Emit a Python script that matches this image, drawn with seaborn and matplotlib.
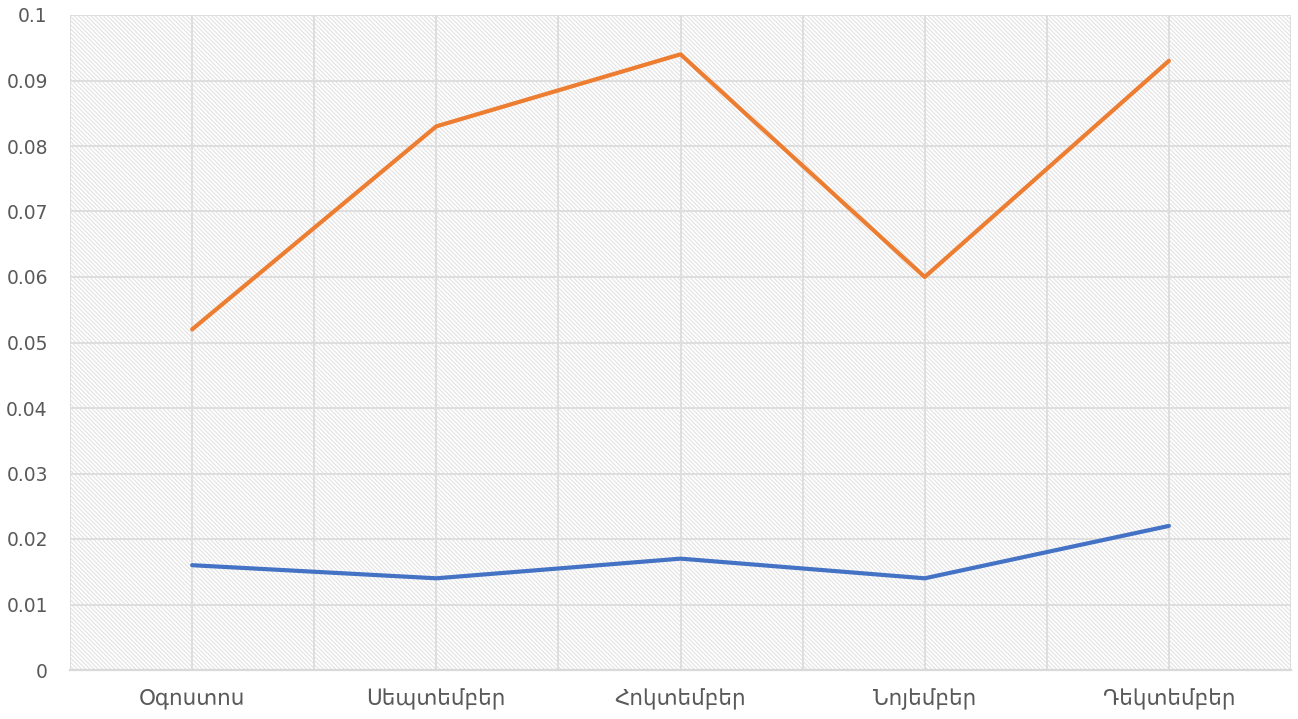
import matplotlib
matplotlib.use("Agg")
import matplotlib.pyplot as plt
import seaborn as sns
import pandas as pd
import numpy as np
from matplotlib.ticker import FixedLocator, FuncFormatter
from matplotlib.patches import Rectangle

months = ["Օգոստոս", "Սեպտեմբեր", "Հոկտեմբեր", "Նոյեմբեր", "Դեկտեմբեր"]
series_blue = [0.016, 0.014, 0.017, 0.014, 0.022]
series_orange = [0.052, 0.083, 0.094, 0.060, 0.093]
y_ticks = [0, 0.01, 0.02, 0.03, 0.04, 0.05, 0.06, 0.07, 0.08, 0.09, 0.1]

sns.set_theme(style="white")
plt.rcParams['font.family'] = ['DejaVu Sans']
plt.rcParams['hatch.linewidth'] = 0.8

df = pd.DataFrame({
    "month": months * 2,
    "value": series_blue + series_orange,
    "series": ["blue"] * len(months) + ["orange"] * len(months),
})

fig = plt.figure(figsize=(12.98, 7.19), dpi=100)
ax = fig.add_axes([70 / 1298, 49 / 719, 1221 / 1298, 655 / 719])

# hatched background
bg = Rectangle((0, 0), 1, 1, transform=ax.transAxes, facecolor="white",
               edgecolor="#E2E2E2", hatch="\\" * 8, linewidth=0, zorder=0)
ax.add_patch(bg)

sns.lineplot(data=df, x="month", y="value", hue="series",
             palette={"blue": "#4472C4", "orange": "#ED7D31"},
             linewidth=3.0, ax=ax, legend=False, sort=False, zorder=3)

ax.set_xlim(-0.5, len(months) - 0.5)
ax.set_ylim(0, 0.1)
ax.yaxis.set_major_locator(FixedLocator(y_ticks))
ax.yaxis.set_major_formatter(FuncFormatter(lambda v, p: "0" if abs(v) < 1e-12 else f"{v:g}"))
ax.xaxis.set_minor_locator(FixedLocator(np.arange(-0.5, len(months), 1.0)))

ax.grid(True, which="major", axis="both", color="#DEDEDE", linewidth=1.4, zorder=1)
ax.grid(True, which="minor", axis="x", color="#DEDEDE", linewidth=1.4, zorder=1)
ax.set_axisbelow(True)

for s in ["left", "top", "right"]:
    ax.spines[s].set_visible(False)
ax.spines["bottom"].set_color("#D9D9D9")
ax.spines["bottom"].set_linewidth(1.6)

ax.tick_params(axis="both", which="both", length=0, colors="#595959")
ax.tick_params(axis="y", pad=16, labelsize=13.5)
ax.tick_params(axis="x", pad=13, labelsize=15.5)
ax.set_xlabel("")
ax.set_ylabel("")

fig.savefig("out.png", dpi=100)
